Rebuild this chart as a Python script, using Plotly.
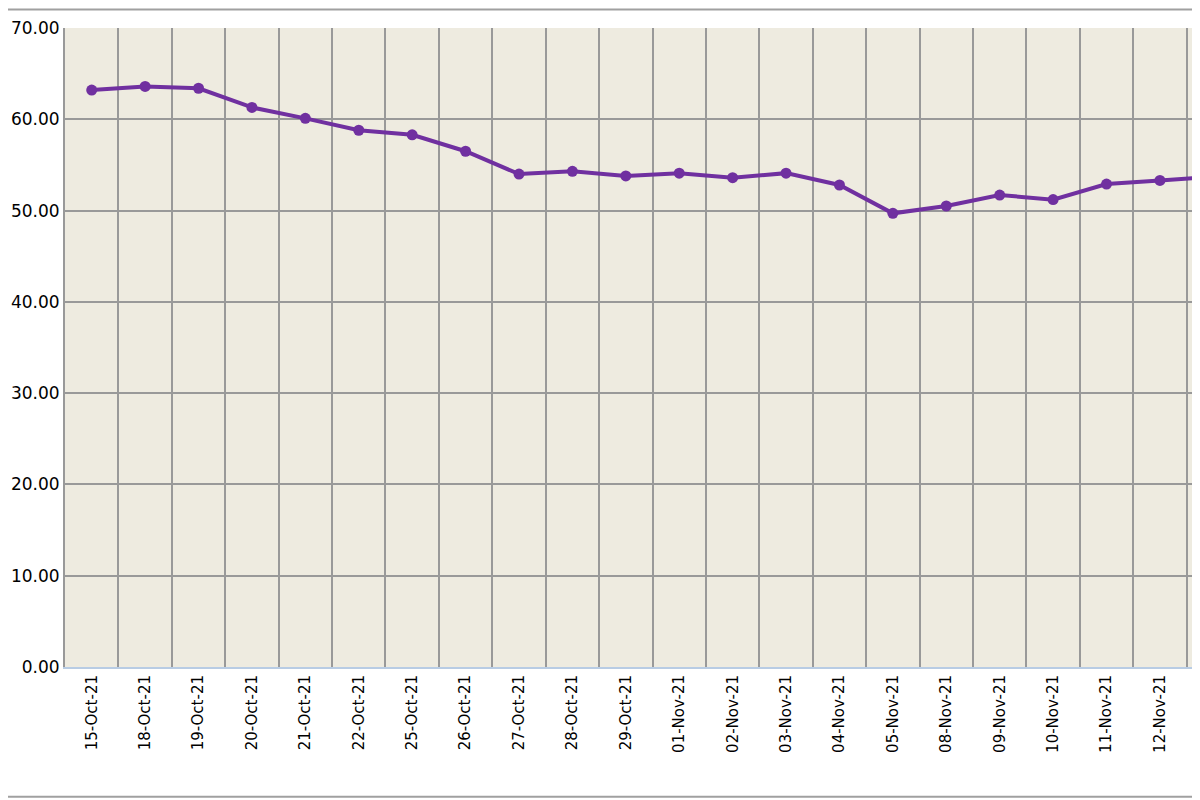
import plotly.graph_objects as go

dates = ['15-Oct-21', '18-Oct-21', '19-Oct-21', '20-Oct-21', '21-Oct-21', '22-Oct-21',
         '25-Oct-21', '26-Oct-21', '27-Oct-21', '28-Oct-21', '29-Oct-21', '01-Nov-21',
         '02-Nov-21', '03-Nov-21', '04-Nov-21', '05-Nov-21', '08-Nov-21', '09-Nov-21',
         '10-Nov-21', '11-Nov-21', '12-Nov-21', '13-Nov-21']
values = [63.2, 63.6, 63.4, 61.3, 60.1, 58.8, 58.3, 56.5, 54.0, 54.3, 53.8, 54.1,
          53.6, 54.1, 52.8, 49.7, 50.5, 51.7, 51.2, 52.9, 53.3, 53.7]
y_ticks = [0, 10, 20, 30, 40, 50, 60, 70]

idx = list(range(len(dates)))

trace = go.Scatter(x=idx, y=values, mode='lines+markers',
                   line=dict(color='#7030A0', width=4),
                   marker=dict(color='#7030A0', size=11),
                   cliponaxis=True)

fig = go.Figure(data=[trace])
fig.update_layout(
    width=1200, height=800,
    margin=dict(l=57, r=0, t=20, b=141),
    paper_bgcolor='white', plot_bgcolor='#EEEBE0',
    showlegend=False,
    font=dict(family='DejaVu Sans', color='black'),
    xaxis=dict(range=[-0.5, 20.9], tickvals=idx, ticktext=dates, tickangle=-90,
               showgrid=False, zeroline=False, tickfont=dict(size=15),
               showline=True, linecolor='#B8CCE4', linewidth=2, ticks='',
               minor=dict(tickvals=[i + 0.5 for i in idx], showgrid=True,
                          gridcolor='#999999', gridwidth=2)),
    yaxis=dict(range=[0, 70], tickvals=y_ticks,
               ticktext=['%.2f' % v for v in y_ticks], tickfont=dict(size=17),
               showgrid=True, gridcolor='#999999', gridwidth=2, zeroline=False,
               showline=True, linecolor='#999999', linewidth=2, ticks='', automargin=False),
)
fig.add_shape(type='line', xref='paper', yref='paper', x0=-1, x1=2, y0=1.029, y1=1.029,
              line=dict(color='#A0A0A0', width=2))
fig.add_shape(type='line', xref='paper', yref='paper', x0=-1, x1=2, y0=-0.203, y1=-0.203,
              line=dict(color='#A0A0A0', width=2))
fig.write_html("out.html")
